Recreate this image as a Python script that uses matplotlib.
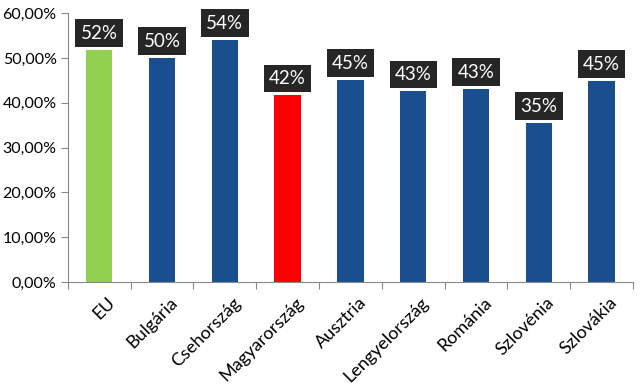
import matplotlib
matplotlib.use("Agg")
import matplotlib.pyplot as plt
from matplotlib.ticker import FuncFormatter, FixedLocator
import numpy as np

categories = ["EU", "Bulgária", "Csehország", "Magyarország", "Ausztria",
              "Lengyelország", "Románia", "Szlovénia", "Szlovákia"]
values = [0.518, 0.500, 0.540, 0.417, 0.451, 0.426, 0.431, 0.355, 0.449]
labels = ["52%", "50%", "54%", "42%", "45%", "43%", "43%", "35%", "45%"]
colors = ["#92D050", "#1A4F8F", "#1A4F8F", "#FF0000", "#1A4F8F",
          "#1A4F8F", "#1A4F8F", "#1A4F8F", "#1A4F8F"]

plt.rcParams['font.family'] = ['Lato', 'DejaVu Sans']

fig = plt.figure(figsize=(6.4, 3.88), dpi=100)
ax = fig.add_axes([0.106, 0.273, 0.883, 0.693])

x = np.arange(len(categories))
ax.bar(x, values, width=0.42, color=colors, zorder=2)

for xi, v, lab in zip(x, values, labels):
    ax.annotate(lab, (xi, v), xytext=(0, 6), textcoords="offset points",
                ha="center", va="bottom", color="white", fontsize=13.5,
                bbox=dict(boxstyle="square,pad=0.28", fc="#262626", ec="none"))

ax.set_xlim(-0.5, len(categories) - 0.5)
ax.set_ylim(0, 0.6)
ax.set_yticks(np.arange(0, 0.61, 0.1))
ax.yaxis.set_major_formatter(FuncFormatter(lambda v, p: f"{v*100:.2f}%".replace(".", ",")))

ax.xaxis.set_major_locator(FixedLocator(np.arange(-0.5, len(categories), 1.0)))
ax.xaxis.set_major_formatter(FuncFormatter(lambda v, p: ""))
ax.set_xticks(x + 0.12, minor=True)
ax.set_xticklabels(categories, minor=True, rotation=45, ha="right",
                   rotation_mode="anchor", fontsize=13)
ax.tick_params(axis="x", which="minor", length=0, pad=9)
ax.tick_params(axis="x", which="major", length=5, color="#888888")
ax.tick_params(axis="y", length=5, color="#888888", labelsize=11.5, pad=3)

for s in ["top", "right"]:
    ax.spines[s].set_visible(False)
for s in ["left", "bottom"]:
    ax.spines[s].set_color("#888888")

fig.savefig("out.png", dpi=100)
